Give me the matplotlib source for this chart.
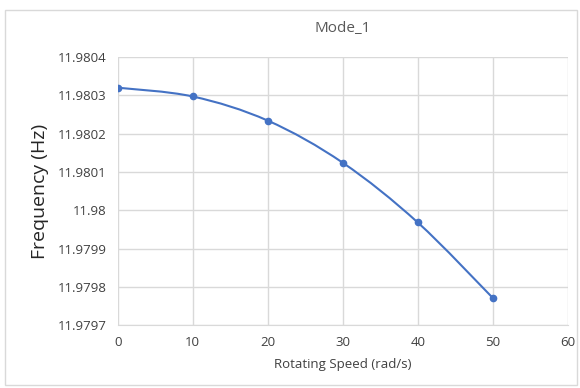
import matplotlib.pyplot as plt
from matplotlib.patches import Rectangle, PathPatch
from matplotlib.path import Path

# data
speed = [0, 10, 20, 30, 40, 50]
freq = [11.980320, 11.980297, 11.980234, 11.980124, 11.979968, 11.979771]
yticks = [11.9797, 11.9798, 11.9799, 11.98, 11.9801, 11.9802, 11.9803, 11.9804]
ytick_labels = ['11.9797', '11.9798', '11.9799', '11.98', '11.9801', '11.9802', '11.9803', '11.9804']
xticks = [0, 10, 20, 30, 40, 50, 60]

plt.rcParams['font.family'] = ['Open Sans', 'DejaVu Sans']
fig = plt.figure(figsize=(5.8, 3.88), dpi=100)

# light frame around the chart, like an Excel chart area
fig.patches.append(Rectangle((0.009, 0.008), 0.985, 0.965, transform=fig.transFigure,
                             fill=False, edgecolor='#d9d9d9', linewidth=1))

ax = fig.add_axes([0.203, 0.162, 0.776, 0.691])

# smoothed line like Excel: bezier segments through the points (catmull-rom style)
verts = [(speed[0], freq[0])]
codes = [Path.MOVETO]
n = len(speed)
for i in range(n - 1):
    p0 = (speed[max(i - 1, 0)], freq[max(i - 1, 0)])
    p1 = (speed[i], freq[i])
    p2 = (speed[i + 1], freq[i + 1])
    p3 = (speed[min(i + 2, n - 1)], freq[min(i + 2, n - 1)])
    c1 = (p1[0] + (p2[0] - p0[0]) / 6, p1[1] + (p2[1] - p0[1]) / 6)
    c2 = (p2[0] - (p3[0] - p1[0]) / 6, p2[1] - (p3[1] - p1[1]) / 6)
    verts += [c1, c2, p2]
    codes += [Path.CURVE4] * 3
ax.add_patch(PathPatch(Path(verts, codes), fill=False, edgecolor='#4472c4', linewidth=1.5))
ax.plot(speed, freq, linestyle='none', color='#4472c4', marker='o', markersize=4.5)

ax.set_xlim(0, 60)
ax.set_ylim(11.9797, 11.9804)
ax.set_xticks(xticks)
ax.set_yticks(yticks)
ax.set_yticklabels(ytick_labels)
ax.grid(True, color='#d9d9d9', linewidth=1)
ax.set_axisbelow(True)
for s in ax.spines.values():
    s.set_visible(False)
ax.spines['bottom'].set_visible(True)
ax.spines['bottom'].set_color('#d9d9d9')
ax.tick_params(length=0, labelsize=9.5, colors='#404040', pad=8)

ax.set_title('Mode_1', fontsize=11, color='#595959', pad=18)
ax.set_xlabel('Rotating Speed (rad/s)', fontsize=9.5, color='#404040', labelpad=6)
ax.set_ylabel('Frequency (Hz)', fontsize=14, color='#262626', labelpad=6)

plt.savefig('out.png', dpi=100)
